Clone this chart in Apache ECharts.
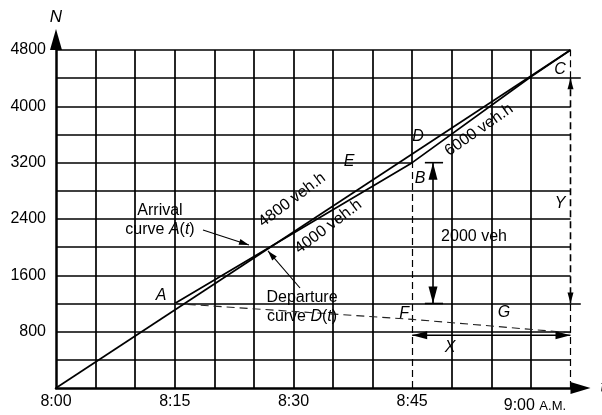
<!DOCTYPE html>
<html><head><meta charset="utf-8">
<script src="https://cdn.jsdelivr.net/npm/echarts@6/dist/echarts.min.js"></script>
<style>html,body{margin:0;padding:0;background:#fff}#c{width:602px;height:415px}</style>
</head><body><div id="c"></div>
<script>
// ---- data ----
const xGridValues = [5,10,15,20,25,30,35,40,45,50,55,60,65];
const yGridValues = [400,800,1200,1600,2000,2400,2800,3200,3600,4000,4400,4800];
const yLabelValues = [800,1600,2400,3200,4000,4800];
const timeTickValues = [0,15,30,45,60];
const timeTickLabels = ['8:00','8:15','8:30','8:45','9:00'];
const arrivalCurve = [[0,0],[65,4800]];
const departureCurve = [[15,1200],[45,3200],[60,4420],[65,4800]];
const queueCurve = [[15,1200],[45,975],[65,785]];
const pointNames = ['A','B','C','D','E','F','G','X','Y'];
const pointAnchors = [[13.27,1306],[45.99,2968],[63.68,4516],[45.74,3564],[37.02,3209],[43.97,1051],[56.6,1065],[49.78,568],[63.68,2613]];
const rateLabels = ['4800 veh.h','4000 veh.h','6000 veh.h'];
const rateAnchors = [[29.82,2670],[34.4,2290],[53.44,3664]];
const rateAngles = [37,37,35];
const queueLabel = '2000 veh';
const queueLabelAnchor = [52.81,2144];
const curveNotes = [['Arrival','curve {i|A}({i|t})'],['Departure','curve {i|D}({i|t})']];
const curveNoteAnchors = [[13.14,2379],[31.08,1150]];
// arrows: from, to, heads (1=end, 2=both, 0=none), kind
const arrows = [
  {from:[18.57,2244], to:[24.38,2031], heads:1, kind:'pointer'},
  {from:[30.83,1420], to:[26.78,1946], heads:1, kind:'pointer'},
  {from:[47.63,3200], to:[47.63,1200], heads:2, kind:'big'},
  {from:[45,750], to:[65,750], heads:2, kind:'span'},
  {from:[65,4400], to:[65,1200], heads:2, kind:'dashspan'},
  {from:[46.6,3200], to:[48.9,3200], heads:0, kind:'tick'},
  {from:[46.6,1200], to:[48.9,1200], heads:0, kind:'tick'}
];

const FONT = '"Liberation Sans", Arial, Helvetica, sans-serif';
const chart = echarts.init(document.getElementById('c'));

// grid segments built from tick values
const solidGrid = [], dashedGrid = [];
yGridValues.forEach(v => {
  if (v === 3200) solidGrid.push([[0,v],[45,v]]);
  else if (v === 4400 || v === 1200) solidGrid.push([[0,v],[66.3,v]]);
  else solidGrid.push([[0,v],[65,v]]);
});
xGridValues.forEach(v => {
  if (v === 45) { solidGrid.push([[v,3200],[v,4800]]); dashedGrid.push([[v,0],[v,3200]]); }
  else if (v === 65) { dashedGrid.push([[v,0],[v,1200]]); dashedGrid.push([[v,4400],[v,4800]]); }
  else solidGrid.push([[v,0],[v,4800]]);
});

const headSize = {pointer:[10,6], big:[17,9], span:[15,8], dashspan:[11,6], tick:[0,0]};

function renderArrow(params, api) {
  const a = arrows[params.dataIndex];
  const p1 = api.coord(a.from), p2 = api.coord(a.to);
  const dx = p2[0]-p1[0], dy = p2[1]-p1[1];
  const len = Math.sqrt(dx*dx+dy*dy);
  const ux = dx/len, uy = dy/len, nx = -uy, ny = ux;
  const [L, W] = headSize[a.kind];
  const children = [{
    type:'line', shape:{x1:p1[0],y1:p1[1],x2:p2[0],y2:p2[1]},
    style:{stroke:'#000', lineWidth: a.kind==='pointer'?1.1:1.6, lineDash: a.kind==='dashspan'?[7,4]:null}
  }];
  function head(tip, sx, sy) {
    const bx = tip[0]-sx*L, by = tip[1]-sy*L;
    children.push({type:'polygon', shape:{points:[[tip[0],tip[1]],[bx+nx*W/2,by+ny*W/2],[bx-nx*W/2,by-ny*W/2]]}, style:{fill:'#000'}});
  }
  if (a.heads >= 1) head(p2, ux, uy);
  if (a.heads === 2) head(p1, -ux, -uy);
  return {type:'group', children};
}

chart.setOption({
  animation:false,
  backgroundColor:'#fff',
  grid:{left:56, right:31.5, top:50, bottom:27, containLabel:false, outerBoundsMode:'none'},
  xAxis:{
    type:'value', min:0, max:65, interval:5,
    axisLine:{show:true, onZero:false, lineStyle:{color:'#000', width:2.5}, symbol:['none','triangle'], symbolSize:[12,20], symbolOffset:[0,10]},
    axisTick:{show:false}, splitLine:{show:false},
    axisLabel:{show:true, margin:6, color:'#000', fontSize:16, fontFamily:FONT,
      formatter: v => { const i = timeTickValues.indexOf(v); if (i < 0) return ''; return v === 60 ? '{n|' + timeTickLabels[i] + '} {s|A.M.}' : timeTickLabels[i]; },
      rich:{n:{fontSize:16, fontFamily:FONT, color:'#000', padding:[4,0,0,8]}, s:{fontSize:13, fontFamily:FONT, color:'#000', padding:[5,0,0,0]}}},
    name:'t', nameLocation:'end', nameGap:30, nameTextStyle:{fontStyle:'italic', fontSize:16, color:'#000', fontFamily:FONT}
  },
  yAxis:{
    type:'value', min:0, max:4800, interval:400,
    axisLine:{show:true, onZero:false, lineStyle:{color:'#000', width:2.5}, symbol:['none','triangle'], symbolSize:[12,21], symbolOffset:[0,10.5]},
    axisTick:{show:false}, splitLine:{show:false},
    axisLabel:{show:true, margin:10, color:'#000', fontSize:16, fontFamily:FONT,
      formatter: v => yLabelValues.indexOf(v) >= 0 ? String(v) : ''},
    name:'N', nameLocation:'end', nameGap:24, nameTextStyle:{fontStyle:'italic', fontSize:17, color:'#000', fontFamily:FONT, align:'center'}
  },
  series:[
    {type:'lines', coordinateSystem:'cartesian2d', clip:false, silent:true, z:1,
     lineStyle:{color:'#000', width:1.7, opacity:1, curveness:0}, data: solidGrid.map(c => ({coords:c}))},
    {type:'lines', coordinateSystem:'cartesian2d', clip:false, silent:true, z:1,
     lineStyle:{color:'#000', width:1.2, opacity:1, curveness:0, type:[7,4]}, data: dashedGrid.map(c => ({coords:c}))},
    {type:'line', name:'Arrival curve A(t)', data:arrivalCurve, symbol:'none', showSymbol:false, clip:false, z:5,
     lineStyle:{color:'#000', width:1.7}},
    {type:'line', name:'Departure curve D(t)', data:departureCurve, symbol:'none', showSymbol:false, clip:false, z:5,
     lineStyle:{color:'#000', width:1.7}},
    {type:'line', name:'queue', data:queueCurve, symbol:'none', showSymbol:false, clip:false, z:5,
     lineStyle:{color:'#222', width:1.1, type:[8,5]}},
    {type:'custom', renderItem:renderArrow, data: arrows.map((a,i) => [i]), clip:false, silent:true, z:6}
  ]
});

const px = p => chart.convertToPixel({gridIndex:0}, p);
const graphics = [];
pointNames.forEach((t, i) => {
  const p = px(pointAnchors[i]);
  graphics.push({type:'text', x:p[0], y:p[1], silent:true, z:10,
    style:{text:t, fontSize:16, fontStyle:'italic', fontFamily:FONT, fill:'#000', align:'center', verticalAlign:'middle'}});
});
rateLabels.forEach((t, i) => {
  const p = px(rateAnchors[i]);
  graphics.push({type:'text', x:p[0], y:p[1], rotation: rateAngles[i]*Math.PI/180, silent:true, z:10,
    style:{text:t, fontSize:16, fontFamily:FONT, fill:'#000', align:'center', verticalAlign:'middle'}});
});
{
  const p = px(queueLabelAnchor);
  graphics.push({type:'text', x:p[0], y:p[1], silent:true, z:10,
    style:{text:queueLabel, fontSize:16, fontFamily:FONT, fill:'#000', align:'center', verticalAlign:'middle'}});
}
curveNotes.forEach((lines, i) => {
  const p = px(curveNoteAnchors[i]);
  graphics.push({type:'text', x:p[0], y:p[1], silent:true, z:10,
    style:{text:lines.join('\n'), fontSize:16, fontFamily:FONT, fill:'#000', align:'center', verticalAlign:'middle', lineHeight:19,
      rich:{i:{fontStyle:'italic', fontSize:16, fontFamily:FONT, fill:'#000', lineHeight:19}}}});
});
chart.setOption({graphic: graphics});
</script>
</body></html>
